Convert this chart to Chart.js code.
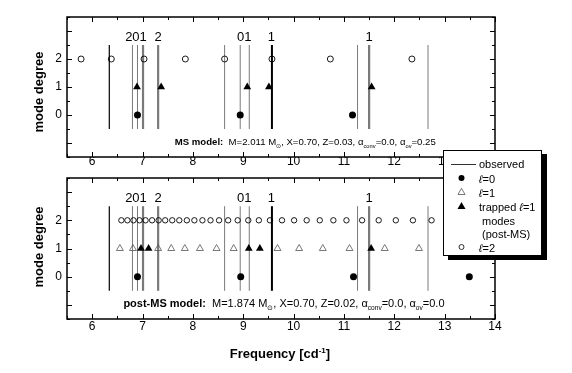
<!DOCTYPE html>
<html>
<head>
<meta charset="utf-8">
<script src="https://cdn.jsdelivr.net/npm/chart.js@4.4.1/dist/chart.umd.min.js"></script>
<style>
  body { margin: 0; background: #fff; font-family: 'Liberation Sans', Arial, sans-serif; }
  #wrap { position: relative; width: 572px; height: 373px; overflow: hidden; }
  #wrap canvas { position: absolute; left: 0; top: 0; }
  .ytitle { position: absolute; font-weight: bold; font-size: 13px; white-space: nowrap;
            transform: translate(-50%, -50%) rotate(-90deg); }
  #xtitle { position: absolute; left: 280px; top: 353px; transform: translate(-50%, -50%);
            font-weight: bold; font-size: 13px; white-space: nowrap; }
  #xtitle sup { font-size: 8px; vertical-align: 5px; line-height: 0; }
  #legend { position: absolute; left: 443px; top: 150px; width: 99px; height: 106px; box-sizing: border-box;
            border: 1px solid #000; background: #fff; box-shadow: 5px 4px 0 #000; font-size: 11px; z-index: 5; }
  .lg { position: absolute; left: 35px; transform: translateY(-50%); white-space: nowrap; line-height: 12px; }
  .sym { position: absolute; left: 12px; transform: translateY(-50%); display: block; }
  #obsline { position: absolute; left: 7px; top: 13px; width: 25px; height: 1px; background: #333; }
</style>
</head>
<body>
<div id="wrap">
  <canvas id="msChart" width="572" height="373"></canvas>
  <canvas id="postChart" width="572" height="373"></canvas>
  <div class="ytitle" style="left:38px;top:92px">mode degree</div>
  <div class="ytitle" style="left:38px;top:247px">mode degree</div>
  <div id="xtitle">Frequency [cd<sup>-1</sup>]</div>
  <div id="legend">
    <div id="obsline"></div><div class="lg" style="top:13px">observed</div>
    <svg class="sym" style="top:27px" width="11" height="11"><circle cx="5.5" cy="5.5" r="3" fill="#000"/></svg>
    <div class="lg" style="top:28px"><i>ℓ</i>=0</div>
    <svg class="sym" style="top:41px" width="11" height="11"><polygon points="5.5,1.8 9,8 2,8" fill="none" stroke="#555" stroke-width="0.8"/></svg>
    <div class="lg" style="top:42px"><i>ℓ</i>=1</div>
    <svg class="sym" style="top:55px" width="11" height="11"><polygon points="5.5,1.5 9.5,8.5 1.5,8.5" fill="#000"/></svg>
    <div class="lg" style="top:56px">trapped <i>ℓ</i>=1</div>
    <div class="lg" style="top:70px;left:38px">modes</div>
    <div class="lg" style="top:83px;left:38px">(post-MS)</div>
    <svg class="sym" style="top:96px" width="11" height="11"><circle cx="5.5" cy="5.5" r="2.5" fill="none" stroke="#000" stroke-width="0.8"/></svg>
    <div class="lg" style="top:97px"><i>ℓ</i>=2</div>
  </div>
</div>
<script>
// 観測周波数 (c/d) と線の種類: 0 細い灰, 1 太い灰, 2 細い黒, 3 太い黒
const obsFreq = [6.34, 6.80, 6.90, 7.01, 7.31, 8.63, 8.94, 9.12, 9.57, 11.27, 11.50, 12.67];
const obsKind = [2, 0, 0, 1, 1, 0, 0, 0, 3, 0, 1, 0];
const obsRange = [-0.5, 2.5];

// 線の上のモード同定ラベル
const idText = ['201', '2', '01', '1', '1'];
const idFreq = [6.87, 7.31, 9.02, 9.56, 11.50];
const idLevel = 2.65;

// 目盛りラベル
const xTickValues = [6, 7, 8, 9, 10, 11, 12, 13, 14];
const yTickValues = [0, 1, 2];

// MS model
const msL0 = [6.90, 8.94, 11.17];
const msL1Trapped = [6.89, 7.37, 9.08, 9.51, 11.55];
const msL2 = [5.78, 6.38, 7.03, 7.85, 8.63, 9.57, 10.73, 12.35];

// post-MS model
const postL0 = [6.90, 8.95, 11.19, 13.49];
const postL1 = [6.55, 6.81, 7.31, 7.57, 7.84, 8.14, 8.47, 8.81, 9.68, 10.11, 10.58, 11.11, 11.81, 12.49];
const postL1Trapped = [6.97, 7.12, 9.11, 9.33, 11.54];
const postL2 = [6.58, 6.70, 6.82, 6.94, 7.06, 7.19, 7.32, 7.45, 7.59, 7.73, 7.88, 8.03, 8.19, 8.35, 8.52,
                8.70, 8.89, 9.10, 9.31, 9.53, 9.77, 10.01, 10.26, 10.52, 10.79, 11.05, 11.36, 11.69, 12.03, 12.37, 12.74];

const msText = [
  { t: 'MS model:', b: true }, { t: '  M=2.011 M' }, { t: '\u2299', sub: true },
  { t: ', X=0.70, Z=0.03, \u03b1' }, { t: 'conv', sub: true }, { t: '=0.0, \u03b1' }, { t: 'ov', sub: true }, { t: '=0.25' }
];
const postText = [
  { t: 'post-MS model:', b: true }, { t: '  M=1.874 M' }, { t: '\u2299', sub: true },
  { t: ', X=0.70, Z=0.02, \u03b1' }, { t: 'conv', sub: true }, { t: '=0.0, \u03b1' }, { t: 'ov', sub: true }, { t: '=0.0' }
];

const FONT = '"Liberation Sans", Arial, sans-serif';
Chart.defaults.font.family = FONT;
Chart.defaults.color = '#000';

const lineStyles = [
  { color: '#7a7a7a', width: 1 },
  { color: '#7a7a7a', width: 2.2 },
  { color: '#000', width: 1.2 },
  { color: '#000', width: 2 }
];

const pts = (arr, lvl) => arr.map(f => ({ x: f, y: lvl }));

function obsDatasets() {
  return obsFreq.map((f, i) => ({
    data: [{ x: f, y: obsRange[0] }, { x: f, y: obsRange[1] }],
    showLine: true, pointRadius: 0,
    borderColor: lineStyles[obsKind[i]].color,
    borderWidth: lineStyles[obsKind[i]].width,
    order: 5
  }));
}

const filledCircle = d => ({ data: d, pointStyle: 'circle', pointRadius: 3.5, backgroundColor: '#000', borderColor: '#000', borderWidth: 0, order: 1 });
const openCircle = (d, r) => ({ data: d, pointStyle: 'circle', pointRadius: r, backgroundColor: 'rgba(0,0,0,0)', borderColor: '#000', borderWidth: 0.9, order: 1 });
const filledTri = d => ({ data: d, pointStyle: 'triangle', pointRadius: 4.5, backgroundColor: '#000', borderColor: '#000', borderWidth: 0, order: 1 });
const openTri = d => ({ data: d, pointStyle: 'triangle', pointRadius: 4, backgroundColor: 'rgba(0,0,0,0)', borderColor: '#555', borderWidth: 0.8, order: 1 });

// 枠と内向きの目盛り
const framePlugin = {
  id: 'frame',
  afterDraw(chart) {
    const { ctx, chartArea: a, scales: { x, y } } = chart;
    ctx.save();
    ctx.strokeStyle = '#000';
    ctx.lineWidth = 1;
    ctx.beginPath();
    for (let v = Math.ceil(x.min * 2) / 2; v <= x.max; v += 0.5) {
      const p = Math.round(x.getPixelForValue(v)) + 0.5;
      const len = Number.isInteger(v) ? 5 : 3;
      ctx.moveTo(p, a.bottom); ctx.lineTo(p, a.bottom - len);
      ctx.moveTo(p, a.top); ctx.lineTo(p, a.top + len);
    }
    for (let v = Math.ceil(y.min * 2) / 2; v <= y.max; v += 0.5) {
      const p = Math.round(y.getPixelForValue(v)) + 0.5;
      const len = Number.isInteger(v) ? 5 : 3;
      ctx.moveTo(a.left, p); ctx.lineTo(a.left + len, p);
      ctx.moveTo(a.right, p); ctx.lineTo(a.right - len, p);
    }
    ctx.stroke();
    ctx.lineWidth = 1.5;
    ctx.strokeRect(a.left, a.top, a.right - a.left, a.bottom - a.top);
    ctx.restore();
  }
};

// 同定ラベルとモデル説明文
const textPlugin = {
  id: 'panelText',
  afterDatasetsDraw(chart, args, opts) {
    const { ctx, scales: { x, y } } = chart;
    ctx.save();
    ctx.fillStyle = '#000';
    ctx.textBaseline = 'alphabetic';
    ctx.textAlign = 'center';
    ctx.font = '13px ' + FONT;
    idText.forEach((t, i) => ctx.fillText(t, x.getPixelForValue(idFreq[i]), y.getPixelForValue(idLevel)));
    ctx.textAlign = 'left';
    let cx = x.getPixelForValue(opts.x);
    const by = y.getPixelForValue(opts.y);
    for (const r of opts.runs) {
      const s = r.sub ? opts.size * 0.6 : opts.size;
      ctx.font = (r.b ? 'bold ' : '') + s + 'px ' + FONT;
      ctx.fillText(r.t, cx, r.sub ? by + opts.size * 0.3 : by);
      cx += ctx.measureText(r.t).width;
    }
    ctx.restore();
  }
};

function panel(canvasId, datasets, padTop, padBottom, labelPad, text) {
  return new Chart(document.getElementById(canvasId), {
    type: 'scatter',
    data: { datasets },
    options: {
      responsive: false,
      animation: false,
      layout: { padding: { left: 0, right: 77, top: padTop, bottom: padBottom } },
      plugins: { legend: { display: false }, tooltip: { enabled: false }, panelText: text },
      scales: {
        x: {
          type: 'linear', min: 5.5, max: 14,
          grid: { display: false, drawTicks: false }, border: { display: false },
          ticks: { autoSkip: false, maxRotation: 0, padding: labelPad, color: '#000', font: { size: 12 } },
          afterBuildTicks: s => { s.ticks = xTickValues.map(v => ({ value: v })); },
          afterFit: s => { s.height = 20; }
        },
        y: {
          type: 'linear', min: -1.5, max: 3.5,
          grid: { display: false, drawTicks: false }, border: { display: false },
          ticks: { autoSkip: false, padding: 5, color: '#000', font: { size: 12 } },
          afterBuildTicks: s => { s.ticks = yTickValues.map(v => ({ value: v })); },
          afterFit: s => { s.width = 67; }
        }
      }
    },
    plugins: [framePlugin, textPlugin]
  });
}

panel('msChart', [
  ...obsDatasets(),
  openCircle(pts(msL2, 2), 3),
  filledTri(pts(msL1Trapped, 1)),
  filledCircle(pts(msL0, 0))
], 17, 373 - 157 - 20, -3, { runs: msText, x: 7.64, y: -1.08, size: 9.6 });

panel('postChart', [
  ...obsDatasets(),
  openCircle(pts(postL2, 2), 2.7),
  openTri(pts(postL1, 1)),
  filledTri(pts(postL1Trapped, 1)),
  filledCircle(pts(postL0, 0))
], 178, 373 - 319 - 20, 0, { runs: postText, x: 6.62, y: -1.08, size: 11 });
</script>
</body>
</html>
